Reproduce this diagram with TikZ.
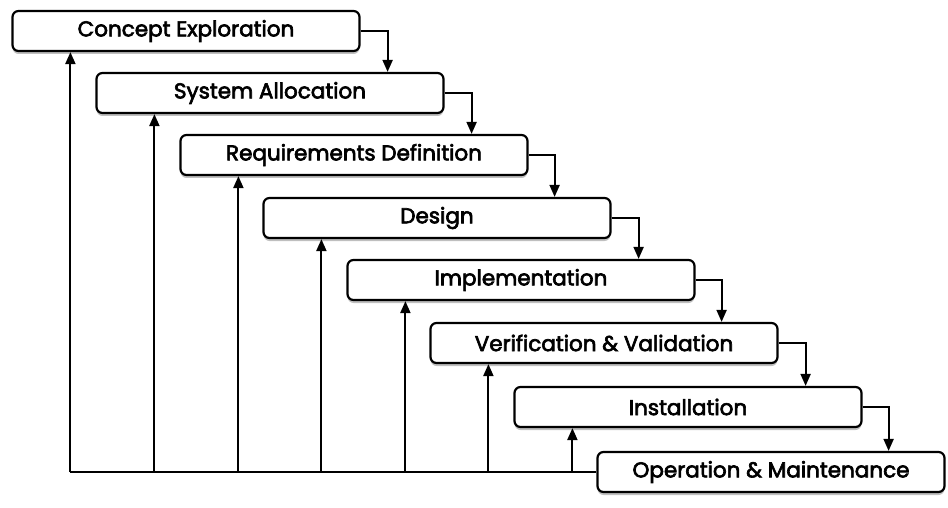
\documentclass[tikz,border=0pt]{standalone}
\usepackage{fontspec}
\setmainfont{Poppins}
\newfontfamily\phasefont{Poppins}[FakeBold=3]
\usetikzlibrary{arrows.meta,shadows}
\begin{document}
\begin{tikzpicture}[x=1pt,y=-1pt,
  phase/.style={draw=black, line width=2.2pt, rounded corners=6pt, fill=white,
    minimum width=347pt, minimum height=40pt, inner sep=0pt,
    font=\phasefont\fontsize{21.5}{25}\selectfont,
    drop shadow={shadow xshift=0pt, shadow yshift=-3pt, opacity=0.5, fill=gray}},
  tip/.style={-{Triangle[length=12pt,width=10pt]}},
  flow/.style={line width=2pt, tip},
  back/.style={line width=2pt, tip}]
  \useasboundingbox (0,0) rectangle (948,508);

  % the eight phases, each one step right and down from the last
  \node[phase] (p1) at (186,31)  {Concept Exploration};
  \node[phase] (p2) at (270,93)  {System Allocation};
  \node[phase] (p3) at (354,155) {Requirements Definition};
  \node[phase] (p4) at (437,218) {Design};
  \node[phase] (p5) at (521,280) {Implementation};
  \node[phase] (p6) at (604,343) {Verification \& Validation};
  \node[phase] (p7) at (688,407) {Installation};
  \node[phase] (p8) at (771,472) {Operation \& Maintenance};

  % forward flow: out of the right side, down onto the next phase
  \foreach \a/\b in {p1/p2,p2/p3,p3/p4,p4/p5,p5/p6,p6/p7,p7/p8}{
    \draw[flow] (\a.east) -| ([xshift=-57pt]\b.north east);
  }

  % feedback: common return line from the last phase up to every earlier one
  \coordinate (ret) at ([xshift=59pt]p1.west |- p8.west);
  \draw[line width=2pt] (p8.west) -- (ret);
  \foreach \p in {p1,p2,p3,p4,p5,p6,p7}{
    \draw[back] ([xshift=59pt]\p.west |- p8.west) -- ([xshift=59pt]\p.south west);
  }
\end{tikzpicture}
\end{document}
